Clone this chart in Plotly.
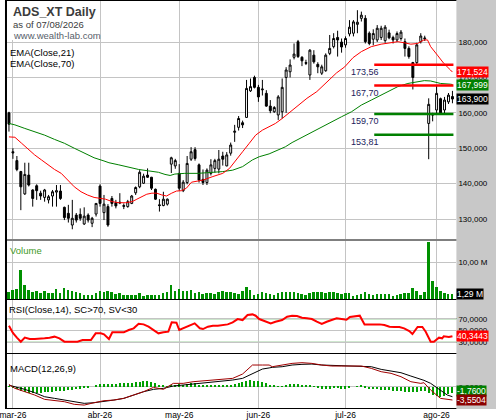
"""
ADS_XT daily chart (WealthLab style): candles + EMAs, volume, RSI and MACD panes.
"""

import plotly.graph_objects as go

# ---------------------------------------------------------------- data
# one entry per trading day, 27/02/2026 .. 07/08/2026 (113 bars)
opens = [
    160.0, 149.0, 146.5, 143.4, 137.1, 142.4, 138.2, 139.4, 137.3, 136.1,
    135.4, 136.5, 137.6, 137.9, 133.3, 131.6, 128.3, 131.1, 131.3, 128.6,
    131.1, 128.8, 131.4, 139.3, 131.8, 133.5, 135.8, 134.6, 134.5, 133.8,
    133.5, 134.4, 137.4, 139.1, 140.1, 142.4, 141.8, 138.4, 134.0, 133.8,
    134.2, 145.5, 145.0, 142.9, 138.0, 140.3, 146.9, 149.6, 145.3, 141.2,
    140.3, 142.9, 144.3, 144.1, 147.8, 145.0, 148.6, 154.5, 155.9, 157.2,
    158.7, 166.2, 170.0, 167.2, 166.5, 165.5, 161.9, 160.3, 159.4, 160.3,
    170.0, 171.6, 175.7, 180.1, 175.7, 174.2, 170.7, 176.3, 173.7, 171.2,
    171.9, 176.8, 178.7, 181.3, 180.0, 179.2, 182.3, 182.5, 185.0, 186.7,
    186.7, 182.5, 180.8, 180.6, 181.3, 180.4, 182.6, 181.3, 180.6, 181.0,
    180.1, 178.2, 174.2, 174.2, 180.1, 180.9, 157.0, 159.6, 160.8, 164.0,
    160.8, 163.1, 164.6,
]
highs = [
    160.3, 150.0, 147.8, 143.6, 145.9, 145.9, 138.4, 139.8, 138.0, 138.5,
    136.8, 138.2, 139.6, 139.6, 133.5, 134.0, 135.4, 131.7, 133.0, 133.3,
    131.6, 130.6, 134.4, 139.8, 136.8, 134.2, 136.5, 135.4, 137.3, 134.4,
    135.4, 136.8, 139.2, 143.8, 142.8, 144.3, 141.9, 138.6, 135.6, 137.7,
    135.8, 147.6, 147.0, 145.5, 141.0, 147.8, 150.3, 150.3, 145.7, 144.0,
    144.3, 146.9, 147.0, 149.5, 149.0, 148.9, 151.6, 156.6, 159.1, 157.8,
    169.3, 169.7, 170.5, 167.9, 169.3, 166.4, 163.6, 161.9, 165.0, 169.7,
    172.9, 175.1, 179.6, 180.6, 176.0, 175.0, 178.0, 177.7, 174.3, 173.6,
    176.8, 182.0, 182.5, 183.2, 181.0, 181.6, 186.2, 186.2, 189.0, 188.6,
    187.6, 183.0, 183.6, 184.8, 184.6, 184.8, 183.5, 181.8, 183.0, 183.4,
    181.0, 178.8, 174.4, 179.8, 182.5, 181.8, 164.1, 160.0, 167.9, 164.3,
    164.5, 165.6, 166.2,
]
lows = [
    154.7, 147.0, 143.5, 132.5, 136.8, 139.2, 133.5, 135.4, 135.4, 134.9,
    134.4, 133.5, 133.5, 135.4, 129.7, 129.0, 127.1, 129.0, 129.5, 128.3,
    129.0, 127.7, 130.7, 133.5, 129.7, 127.8, 133.5, 133.0, 134.2, 132.8,
    133.2, 134.2, 136.8, 138.7, 139.9, 141.6, 138.2, 135.4, 132.1, 133.6,
    133.8, 143.0, 144.2, 138.0, 137.6, 139.8, 146.4, 146.5, 140.3, 139.6,
    139.6, 142.3, 143.1, 142.9, 145.1, 144.9, 147.9, 151.8, 155.0, 155.7,
    158.7, 165.9, 166.9, 163.1, 164.9, 161.7, 159.9, 160.0, 158.0, 158.4,
    160.0, 170.0, 175.1, 175.5, 173.2, 173.5, 169.3, 173.9, 171.2, 170.7,
    171.6, 176.3, 178.2, 175.9, 177.0, 178.4, 181.6, 181.6, 182.5, 185.8,
    179.6, 179.1, 179.1, 180.0, 180.6, 179.8, 180.8, 179.6, 180.0, 180.4,
    175.9, 175.3, 166.6, 173.5, 179.6, 180.3, 146.9, 157.6, 159.8, 159.5,
    159.8, 162.5, 162.7,
]
closes = [
    156.8, 148.7, 144.0, 139.1, 142.6, 139.6, 135.8, 138.0, 136.5, 138.2,
    136.3, 137.7, 138.0, 135.8, 130.4, 130.2, 130.2, 129.7, 130.2, 130.8,
    129.7, 130.2, 134.4, 134.4, 134.2, 128.3, 134.4, 133.7, 134.7, 133.6,
    134.9, 136.5, 138.9, 143.2, 142.1, 141.8, 138.7, 135.6, 133.8, 135.6,
    135.6, 147.3, 146.5, 138.7, 140.4, 145.7, 149.0, 147.1, 141.0, 140.3,
    143.8, 145.3, 146.5, 146.9, 146.9, 148.1, 150.9, 154.8, 158.4, 156.6,
    166.9, 167.4, 167.2, 164.5, 166.7, 161.9, 160.6, 161.5, 164.5, 167.2,
    172.1, 173.5, 176.6, 175.9, 174.7, 174.0, 177.7, 174.4, 173.0, 173.0,
    176.3, 178.2, 181.0, 180.6, 178.6, 181.0, 184.2, 185.7, 185.6, 187.6,
    180.1, 179.6, 182.4, 183.9, 183.9, 184.2, 181.2, 180.6, 182.4, 182.8,
    178.2, 175.9, 170.0, 179.2, 181.7, 181.1, 162.4, 159.4, 165.5, 160.0,
    163.6, 165.0, 163.9,
]
volume_m = [
    1.98, 2.43, 2.70, 7.84, 3.78, 2.43, 1.98, 2.25, 1.62, 2.16,
    1.62, 1.53, 2.70, 1.62, 2.97, 2.43, 2.07, 1.98, 1.53, 1.17,
    1.17, 0.99, 1.53, 2.25, 1.80, 2.16, 1.98, 1.26, 1.62, 1.17,
    1.17, 1.17, 0.99, 1.62, 0.72, 1.08, 1.08, 1.08, 1.08, 1.53,
    1.80, 3.78, 2.16, 2.70, 2.16, 2.07, 2.34, 1.62, 1.80, 1.26,
    1.62, 1.62, 1.35, 1.89, 2.16, 1.80, 1.98, 1.62, 1.26, 2.25,
    3.24, 2.43, 1.17, 1.35, 1.80, 1.53, 1.26, 1.08, 1.62, 1.80,
    1.80, 1.98, 1.80, 1.53, 1.26, 1.08, 1.53, 1.80, 1.80, 1.80,
    1.53, 1.98, 1.98, 1.53, 1.26, 1.53, 1.53, 0.90, 1.08, 1.26,
    1.98, 1.26, 1.08, 1.26, 1.44, 1.44, 1.26, 0.90, 1.17, 1.26,
    1.53, 1.53, 2.88, 2.07, 1.08, 1.80, 15.50, 4.95, 3.33, 2.25,
    1.62, 1.26, 1.29,
]

# EMA readings (bar position, value)
ema21_idx = [0, 1.5, 3.2, 4.8, 6.5, 8.2, 9.8, 11.5, 13.2, 14.8, 16.5, 18.2, 19.8,
             21.5, 23.2, 24.4, 26.1, 27.75, 29.4, 31.1, 32.3, 33.6, 34.8, 36.1,
             37.3, 38.6, 39.8, 41.1, 42.3, 43.6, 44.8, 46.1, 47.75, 49, 51.5, 54,
             55.7, 57.3, 59, 60.7, 62.3, 64, 65.7, 67.3, 69, 70.7, 72.75, 75.25,
             77.75, 80.25, 82.75, 84.8, 86.9, 89, 91.5, 94, 96.5, 98.2, 99.8,
             101.5, 103.2, 104.8, 105.7, 106.5, 108.2, 109.8, 111.5, 112]
ema21_val = [153.2, 153.1, 151.4, 149.7, 148.1, 146.7, 145.3, 144.0, 142.9, 141.2,
             139.1, 137.7, 136.8, 136.1, 135.8, 135.6, 134.9, 134.6, 134.6, 134.9,
             135.6, 136.3, 137.0, 137.3, 137.3, 136.8, 136.5, 137.3, 137.9, 138.0,
             138.7, 140.4, 140.8, 141.0, 142.0, 142.9, 144.3, 146.7, 149.0, 151.4,
             153.7, 155.1, 156.1, 157.0, 158.4, 159.9, 161.9, 164.1, 166.0, 168.8,
             171.3, 173.0, 175.6, 177.3, 178.7, 179.4, 179.9, 180.1, 179.8, 179.4,
             179.6, 180.6, 180.6, 178.7, 176.3, 174.0, 172.1, 171.524]
ema70_idx = [0, 1.5, 4, 6.5, 9, 11.5, 14, 16.5, 19, 21.5, 24, 25.25, 27.75, 30.25,
             32.75, 35.25, 37.75, 39.4, 40.7, 41.9, 44.4, 47.75, 51.5, 54, 56.5,
             59, 61.5, 63.2, 65.7, 68.2, 69.8, 71.5, 76.5, 81.5, 84, 86.5, 89,
             91.5, 94, 96.5, 98.2, 100.75, 103.25, 104.9, 106.5, 109, 111.5, 112]
ema70_val = [157.0, 156.6, 155.6, 154.7, 153.7, 152.5, 151.4, 150.0, 148.6, 147.3,
             146.4, 145.9, 145.3, 144.6, 144.0, 143.6, 143.2, 142.6, 142.3, 142.7,
             142.9, 142.9, 143.1, 143.4, 143.8, 144.8, 146.7, 147.6, 148.4, 149.5,
             150.4, 151.6, 154.6, 157.5, 158.9, 160.3, 162.2, 163.6, 165.0, 166.4,
             167.4, 168.3, 168.8, 169.1, 169.0, 168.3, 168.1, 167.999]

# support / resistance levels drawn over the last bars
resist_levels = [173.56, 167.70]
support_levels = [159.70, 153.81]
levels_from, levels_to = 92.25, 112.25

# RSI(14) readings
rsi_idx = [0, 1, 2, 3, 4, 5.25, 6.5, 7.75, 9, 10.25, 11.5, 12.75, 14, 15.7, 17.3,
           18.6, 20.7, 21.9, 23.2, 24, 25.25, 26.1, 27.3, 29, 30.25, 31.5, 32.75,
           34, 35.25, 36.5, 37.75, 39, 40.25, 41.1, 42.3, 43, 44, 45.7, 46.9, 48.2,
           49, 50.25, 51.5, 52.75, 54, 55.25, 56.5, 57.75, 59, 60.25, 61.5, 62.3,
           63.2, 64.8, 66.1, 67.3, 69, 70.25, 71.5, 72.75, 74, 75.25, 76.5, 77.75,
           79, 80.25, 81.5, 82.75, 84, 85.25, 86.1, 87.3, 88.6, 89.8, 91.1, 92.3,
           93.6, 94.8, 96.1, 97.3, 98.6, 99.8, 101.1, 101.9, 103.2, 104.4, 105.25,
           106.5, 107.3, 108.6, 109.4, 109.8, 111.1, 112]
rsi_val = [58.0, 46.0, 38.0, 31.0, 37.9, 35.6, 35.6, 35.6, 36.8, 37.9, 39.6, 36.8,
           31.1, 31.1, 31.1, 33.9, 33.9, 45.2, 45.2, 43.5, 35.6, 46.9, 46.9, 46.9,
           50.8, 53.7, 61.5, 60.4, 56.5, 50.8, 45.2, 46.9, 48.0, 63.8, 63.2, 50.8,
           53.7, 59.3, 62.1, 53.7, 52.5, 56.5, 58.2, 58.2, 59.3, 60.4, 63.8, 69.4,
           67.7, 76.2, 77.3, 75.1, 69.4, 66.1, 62.1, 64.9, 67.7, 73.4, 75.1, 74.5,
           71.7, 70.6, 69.4, 64.9, 61.0, 64.9, 68.3, 70.6, 69.4, 68.3, 72.8, 73.9,
           75.1, 60.4, 60.4, 61.5, 60.4, 59.3, 56.5, 55.9, 55.9, 53.7, 49.2, 44.1,
           55.9, 55.9, 48.0, 31.1, 31.1, 37.9, 36.8, 40.1, 39.0, 40.3443]

# MACD(12,26,9) readings
macd_idx = [0, 1.5, 4, 6.5, 9, 11.5, 14, 16.5, 19, 21.5, 24, 26.5, 29, 31.5, 34,
            36.5, 39, 41.5, 44, 46.5, 49, 51.5, 54, 56.5, 59, 61.5, 64, 65.7, 66.5,
            69, 71.5, 74, 76.5, 79, 81.5, 84, 86.5, 89, 91.5, 94, 96.5, 99, 101.5,
            104, 104.8, 106.5, 109, 110.7, 112]
macd_val = [0.6, -0.44, -1.33, -2.22, -3.38, -3.73, -4.0, -4.7, -4.9, -4.27,
            -3.73, -3.56, -3.1, -2.22, -1.33, -0.18, -0.71, 0.89, 0.89, 1.33,
            1.51, 1.78, 1.96, 2.22, 3.38, 5.78, 5.78, 5.78, 5.33, 5.78,
            6.22, 6.4, 6.22, 5.78, 5.51, 5.51, 5.51, 5.51, 4.89, 4.0,
            3.56, 2.67, 1.33, 0.89, 1.07, -0.89, -3.11, -3.38, -3.5504]
signal_val = [0.4, 0.0, -0.71, -1.6, -2.67, -3.11, -3.56, -4.0, -4.44, -4.27,
              -4.0, -3.56, -3.11, -2.22, -1.33, -0.71, -0.44, 0.18, 0.44, 0.89,
              1.07, 1.24, 1.6, 1.78, 2.22, 3.56, 4.71, 5.0, 5.16, 5.33,
              5.78, 5.96, 6.04, 5.78, 5.69, 5.51, 5.51, 5.51, 5.33, 4.62,
              4.27, 3.73, 2.84, 1.96, 1.7, 0.89, -1.07, -2.22, -2.67]
macd_hist = [
    0.18, -0.18, -0.71, -1.07, -1.33, -1.6, -1.6, -1.6, -1.6, -1.33,
    -1.33, -1.33, -1.07, -1.07, -1.07, -0.89, -0.89, -0.71, -0.53, -0.44,
    -0.44, 0.0, 0.44, 0.62, 0.62, 0.62, 0.71, 0.71, 0.89, 0.89,
    0.89, 1.07, 1.16, 1.33, 1.51, 1.51, 1.33, 0.89, 0.44, 0.27,
    0.18, 0.36, 0.53, 0.62, 0.53, 0.62, 0.89, 0.89, 0.44, 0.36,
    0.27, 0.27, 0.27, 0.36, 0.44, 0.44, 0.53, 0.62, 0.89, 1.16,
    1.42, 1.78, 1.6, 1.51, 1.16, 0.89, 0.53, 0.27, 0.18, 0.18,
    0.53, 0.62, 0.71, 0.71, 0.53, 0.53, 0.36, 0.18, -0.36, -0.53,
    -0.53, -0.53, -0.36, -0.18, -0.53, -0.53, -0.18, 0.0, 0.18, 0.44,
    -0.36, -0.62, -0.71, -0.71, -0.89, -0.89, -0.89, -1.07, -1.07, -1.24,
    -1.33, -1.42, -1.51, -1.42, -1.24, -1.07, -1.6, -2.22, -2.49, -2.67,
    -2.49, -2.04, -1.76,
]

# x axis: first bar of each month
month_bars = [1, 23, 43, 63, 85, 108]
month_labels = ["mar-26", "abr-26", "may-26", "jun-26", "jul-26", "ago-26"]

# ---------------------------------------------------------------- layout helpers
W, H = 496, 420
XR = 456 / W              # right edge of the chart area (grey value strip beyond)
GRID = "#c4c4c4"
FONT = "Liberation Sans, Arial, sans-serif"


def py(px):
    """vertical pixel -> paper fraction"""
    return 1 - px / H


def fmt(v, nd):
    return f"{v:.{nd}f}".replace(".", ",")


bars = list(range(len(closes)))

fig = go.Figure()

# price pane
fig.add_trace(go.Candlestick(
    x=bars, open=opens, high=highs, low=lows, close=closes,
    xaxis="x", yaxis="y", whiskerwidth=0,
    increasing=dict(line=dict(color="black", width=1), fillcolor="white"),
    decreasing=dict(line=dict(color="black", width=1), fillcolor="black"),
))
fig.add_trace(go.Scatter(x=ema70_idx, y=ema70_val, mode="lines",
                         line=dict(color="#008000", width=1), xaxis="x", yaxis="y"))
fig.add_trace(go.Scatter(x=ema21_idx, y=ema21_val, mode="lines",
                         line=dict(color="#ff0000", width=1), xaxis="x", yaxis="y"))
for lv in resist_levels:
    fig.add_trace(go.Scatter(x=[levels_from, levels_to], y=[lv, lv], mode="lines",
                             line=dict(color="#ff0000", width=2.5), xaxis="x", yaxis="y"))
for lv in support_levels:
    fig.add_trace(go.Scatter(x=[levels_from, levels_to], y=[lv, lv], mode="lines",
                             line=dict(color="#008000", width=2.5), xaxis="x", yaxis="y"))

# volume pane
fig.add_trace(go.Bar(x=bars, y=volume_m, width=0.5, marker=dict(color="#009000", line_width=0),
                     xaxis="x2", yaxis="y2"))

# RSI pane
fig.add_trace(go.Scatter(x=rsi_idx, y=rsi_val, mode="lines",
                         line=dict(color="#ff0000", width=2), xaxis="x3", yaxis="y3"))

# MACD pane
fig.add_trace(go.Bar(x=bars, y=macd_hist, width=0.3, marker=dict(color="#00a000", line_width=0),
                     xaxis="x4", yaxis="y4"))
fig.add_trace(go.Scatter(x=macd_idx, y=signal_val, mode="lines",
                         line=dict(color="black", width=1), xaxis="x4", yaxis="y4"))
fig.add_trace(go.Scatter(x=macd_idx, y=macd_val, mode="lines",
                         line=dict(color="#a00000", width=1), xaxis="x4", yaxis="y4"))

xcommon = dict(domain=[0, XR], range=[-1, 113], tickvals=month_bars, showgrid=True,
               gridcolor=GRID, gridwidth=1, zeroline=False, showline=False, ticks="",
               fixedrange=True)
ycommon = dict(side="right", showgrid=True, gridcolor=GRID, gridwidth=1, zeroline=False,
               showline=False, ticks="", tickfont=dict(family=FONT, size=8, color="black"),
               ticklabelstandoff=1, fixedrange=True)

fig.update_layout(
    width=W, height=H,
    margin=dict(l=0, r=0, t=0, b=0),
    paper_bgcolor="white", plot_bgcolor="white",
    showlegend=False, separators=",.",
    font=dict(family=FONT, size=9, color="black"),
    bargap=0,
    xaxis=dict(xcommon, anchor="y", showticklabels=False, rangeslider=dict(visible=False)),
    xaxis2=dict(xcommon, anchor="y2", showticklabels=False),
    xaxis3=dict(xcommon, anchor="y3", showticklabels=False),
    xaxis4=dict(xcommon, anchor="y4", ticktext=month_labels, ticklabelstandoff=0,
                ticklabeloverflow="allow",
                tickfont=dict(family=FONT, size=8.5, color="black")),
    yaxis=dict(ycommon, anchor="x", domain=[py(239), py(1)], range=[124.35, 191.6],
               tickvals=[130, 140, 150, 160, 170, 180], tickformat=".3f"),
    yaxis2=dict(ycommon, anchor="x2", domain=[py(299), py(241)], range=[0, 15.68],
                tickvals=[10], ticktext=["10,00 M"]),
    yaxis3=dict(ycommon, anchor="x3", domain=[py(353), py(300)], range=[11.9, 101.7],
                tickvals=[30, 50, 70], tickformat=".4f"),
    yaxis4=dict(ycommon, anchor="x4", domain=[py(408), py(354)], range=[-5.68, 8.72],
                tickvals=[0], tickformat=".4f"),
)

shapes = [
    # grey value strip on the right
    dict(type="rect", xref="paper", yref="paper", x0=XR, x1=1, y0=py(409), y1=1,
         fillcolor="#c8c8c8", line_width=0, layer="below"),
    # white box behind the title block
    dict(type="rect", xref="paper", yref="paper", x0=0, x1=95 / W, y0=py(40), y1=py(1),
         fillcolor="white", line_width=0, layer="above"),
    # left frame line
    dict(type="line", xref="paper", yref="paper", x0=1 / W, x1=1 / W, y0=py(408.5), y1=1,
         line=dict(color="black", width=2)),
]
for ypx in [0.5, 240, 299.5, 353.5, 408.5]:
    shapes.append(dict(type="line", xref="paper", yref="paper", x0=0, x1=XR,
                       y0=py(ypx), y1=py(ypx), line=dict(color="black", width=1)))
for lv in (70, 30):
    shapes.append(dict(type="line", xref="paper", yref="y3", x0=0, x1=XR, y0=lv, y1=lv,
                       line=dict(color="#008000", width=1), layer="below"))
fig.update_layout(shapes=shapes)

ann = []


def label(text, xpx, ypx, size=9.5, color="black", bold=False):
    ann.append(dict(text=f"<b>{text}</b>" if bold else text, xref="paper", yref="paper",
                    x=xpx / W, y=py(ypx), xanchor="left", yanchor="middle", showarrow=False,
                    font=dict(family=FONT, size=size, color=color)))


label("ADS_XT Daily", 6, 12, size=12.5, color="#3c3c3c", bold=True)
label("as of 07/08/2026", 6, 24, size=9.5, color="#3c3c3c")
label("www.wealth-lab.com", 6, 35, size=9.5, color="#58606a")
label("EMA(Close,21)", 3, 52)
label("EMA(Close,70)", 3, 63)
label("Volume", 3, 250, color="#3f9a1f")
label("RSI(Close,14), SC&gt;70, SV&lt;30", 2, 309)
label("MACD(12,26,9)", 3, 368)

# level captions
for lv in resist_levels + support_levels:
    ann.append(dict(text=fmt(lv, 2), xref="x", yref="y", x=93.9, y=lv, yshift=-7,
                    xanchor="right", yanchor="middle", showarrow=False,
                    font=dict(family=FONT, size=9, color="#1c1c5c")))


def tag(text, yref, yval, bg, yshift=0):
    ann.append(dict(text=text, xref="paper", yref=yref, x=XR, y=yval, yshift=yshift,
                    xanchor="left", yanchor="middle", showarrow=False, bgcolor=bg,
                    borderpad=0, font=dict(family=FONT, size=8.5, color="white")))


tag(fmt(ema21_val[-1], 3), "y", ema21_val[-1], "#ff0000")
tag(fmt(ema70_val[-1], 3), "y", ema70_val[-1], "#008000")
tag(fmt(closes[-1], 3), "y", closes[-1], "black")
tag(fmt(volume_m[-1], 2) + " M", "y2", volume_m[-1], "black")
tag(fmt(rsi_val[-1], 4), "y3", rsi_val[-1], "#ff0000")
tag(fmt(macd_hist[-1], 4), "y4", macd_hist[-1], "#008000", yshift=2)
tag(fmt(macd_val[-1], 4), "y4", macd_val[-1], "#8b0000")

fig.update_layout(annotations=ann)

# the page is photographed at exactly the figure size, so drop the default body margin
fig.write_html("out.html", config={"displayModeBar": False},
               post_script="document.body.style.margin = '0';")
